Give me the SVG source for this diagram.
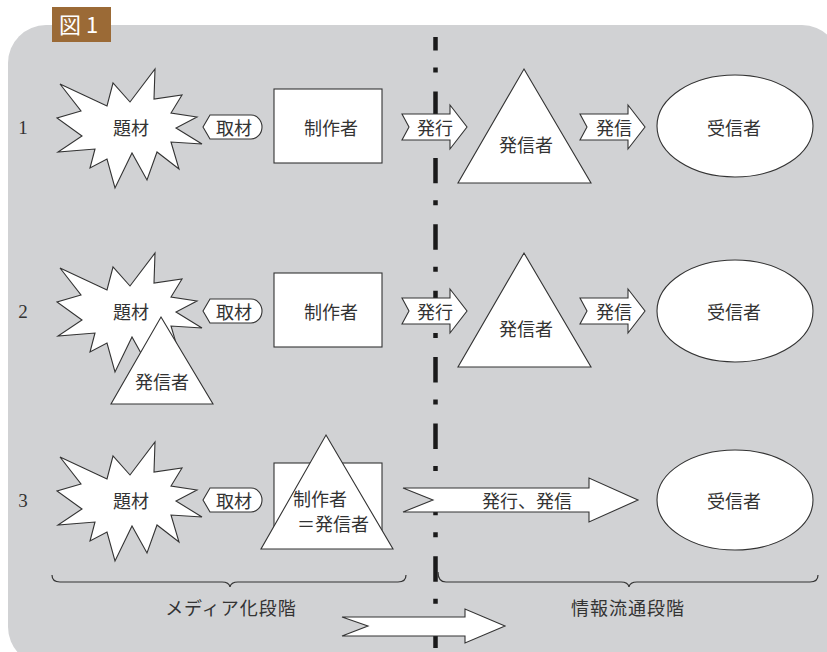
<svg xmlns="http://www.w3.org/2000/svg" width="827" height="652" viewBox="0 0 827 652">
<style>
.shape{fill:#fff;stroke:#333;stroke-width:1.1}
.t{font-family:"Noto Sans CJK JP","Noto Sans",sans-serif;font-size:18px;fill:#333;text-anchor:middle;dominant-baseline:central}
.num{font-family:"Liberation Serif",serif;font-size:19px;fill:#333;text-anchor:middle;dominant-baseline:central}
.brace{fill:none;stroke:#333;stroke-width:1.2}
</style>
<defs>
<path id="burst" d="M60,84 L107,106 L113,83 L130,102 L155,69 L154,99 L182,95 L171,113 L197,117 L176,128 L202,144 L171,142 L179,169 L157,152 L147,180 L132,153 L115,188 L107,159 L90,168 L95,149 L58,152 L82,136 L57,118 L81,111 Z"/>
<path id="tag" d="M203,127 L210,115 H251 A11,12 0 0 1 251,139 H210 Z"/>
<path id="arrowS" d="M402,114 H450 V105 L467,127 L450,149 V140 H402 L409,127 Z"/>
</defs>
<rect x="8" y="25" width="832" height="640" rx="38" fill="#d1d2d4"/>
<g id="title">
<rect x="52" y="7" width="59" height="35" fill="#9b6a36"/>
<text x="59" y="33" font-family="'Noto Sans CJK JP',sans-serif" font-size="22" fill="#fff">図 1</text>
</g>
<g id="divider">
<line x1="435.5" y1="37" x2="435.5" y2="652" stroke="#1a1a1a" stroke-width="4.5" stroke-dasharray="25.4 17 5 19" stroke-dashoffset="11.9"/>
</g>
<g id="row1">
<text class="num" x="23" y="127">1</text>
<g id="burst1"><use href="#burst" class="shape"/><text class="t" x="131" y="127" font-size="19">題材</text></g>
<g id="maker1"><rect class="shape" x="274" y="89" width="108" height="74"/><text class="t" x="331" y="127">制作者</text></g>
<g id="sender1"><path class="shape" d="M524,69 L591,183 L458,183 Z"/><text class="t" x="526" y="144">発信者</text></g>
<g id="receiver1"><ellipse class="shape" cx="735" cy="126" rx="78" ry="51"/><text class="t" x="734" y="127">受信者</text></g>
</g>
<g id="row2">
<text class="num" x="23" y="311">2</text>
<g id="burst2"><use href="#burst" class="shape" transform="translate(0,184)"/><text class="t" x="131" y="311" font-size="19">題材</text></g>
<g id="sender2a"><path class="shape" d="M161,317 L213,404 L111,404 Z"/><text class="t" x="162" y="381">発信者</text></g>
<g id="maker2"><rect class="shape" x="274" y="273" width="108" height="74"/><text class="t" x="331" y="311">制作者</text></g>
<g id="sender2"><path class="shape" d="M524,253 L591,367 L458,367 Z"/><text class="t" x="526" y="328">発信者</text></g>
<g id="receiver2"><ellipse class="shape" cx="735" cy="311" rx="78" ry="51"/><text class="t" x="734" y="311">受信者</text></g>
</g>
<g id="row3">
<text class="num" x="23" y="500">3</text>
<g id="burst3"><use href="#burst" class="shape" transform="translate(0,373)"/><text class="t" x="131" y="500" font-size="19">題材</text></g>
<g id="maker3">
<rect class="shape" x="274" y="463" width="108" height="74"/>
<path class="shape" d="M326,435 L393,549 L261,549 Z"/>
<text class="t" x="293" y="498" style="text-anchor:start">制作者</text>
<text class="t" x="297" y="523" style="text-anchor:start">＝発信者</text>
</g>
<g id="receiver3"><ellipse class="shape" cx="735" cy="500" rx="78" ry="50"/><text class="t" x="734" y="500">受信者</text></g>
</g>
<g id="connectors">
<use href="#tag" class="shape"/><text class="t" x="234" y="127">取材</text>
<use href="#tag" class="shape" transform="translate(0,184)"/><text class="t" x="234" y="311">取材</text>
<use href="#tag" class="shape" transform="translate(0,373)"/><text class="t" x="234" y="500">取材</text>
<use href="#arrowS" class="shape"/><text class="t" x="435" y="127">発行</text>
<use href="#arrowS" class="shape" transform="translate(178,0)"/><text class="t" x="614" y="127">発信</text>
<use href="#arrowS" class="shape" transform="translate(0,184)"/><text class="t" x="435" y="311">発行</text>
<use href="#arrowS" class="shape" transform="translate(178,184)"/><text class="t" x="614" y="311">発信</text>
<path class="shape" d="M403,488 H589 V478 L638,500 L589,522 V512 H403 L433,500 Z"/><text class="t" x="527" y="500">発行、発信</text>
<path class="shape" d="M342,617 H465 V609 L505,626 L465,643 V636 H342 L368,626 Z"/>
</g>
<g id="braces">
<path class="brace" d="M52,575 Q52,582 60,582 H222 Q229,582 230,587 Q231,582 238,582 H398 Q406,582 406,575"/>
<path class="brace" d="M438,572 Q438,582 446,582 H621 Q628,582 629,587 Q630,582 637,582 H810 Q818,582 818,575"/>
<text class="t" x="231" y="607" letter-spacing="1">メディア化段階</text>
<text class="t" x="628" y="607" letter-spacing="1">情報流通段階</text>
</g>
</svg>
